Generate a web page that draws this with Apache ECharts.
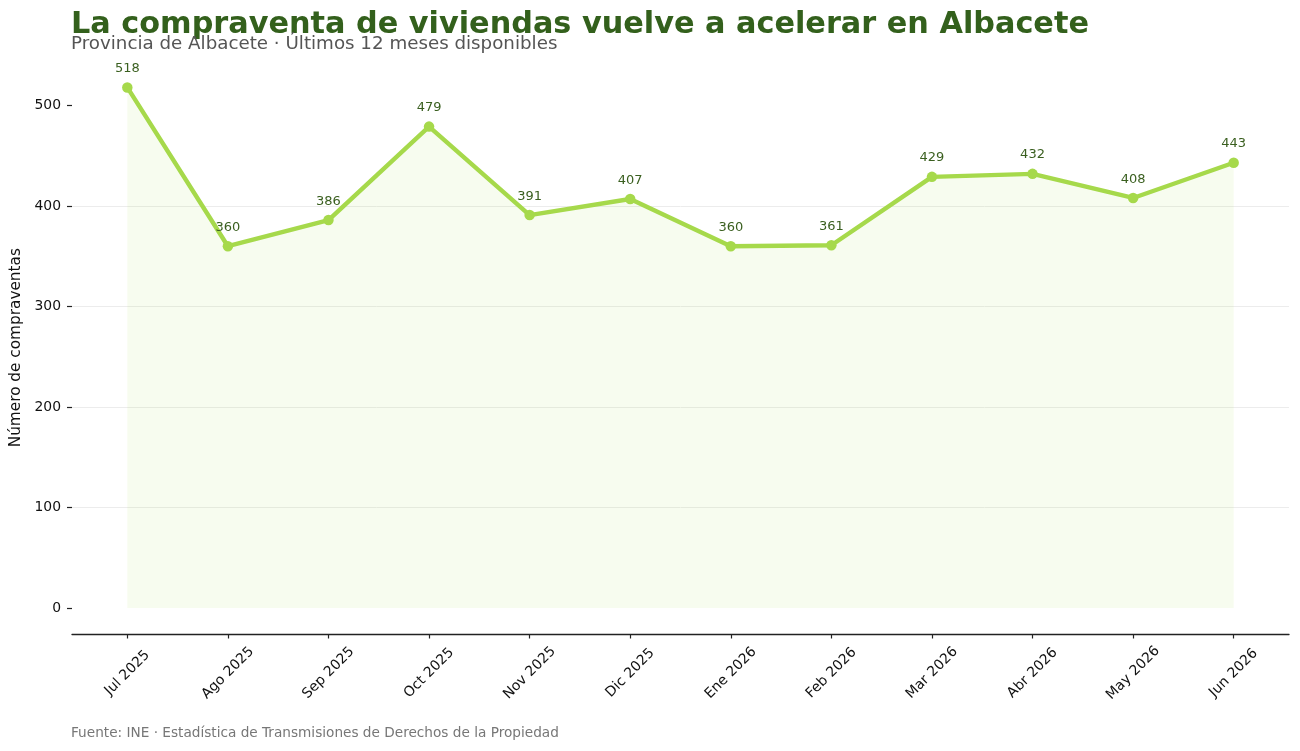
<!DOCTYPE html>
<html>
<head>
<meta charset="UTF-8">
<title>Compraventa de viviendas Albacete</title>
<script src="https://cdn.jsdelivr.net/npm/echarts@6/dist/echarts.min.js"></script>
<style>
html, body { margin: 0; padding: 0; background: #fff; }
#main { width: 1300px; height: 751px; }
</style>
</head>
<body>
<div id="main"></div>
<script>
// datos
var meses = ['Jul 2025', 'Ago 2025', 'Sep 2025', 'Oct 2025', 'Nov 2025', 'Dic 2025',
             'Ene 2026', 'Feb 2026', 'Mar 2026', 'Abr 2026', 'May 2026', 'Jun 2026'];
var compraventas = [518, 360, 386, 479, 391, 407, 360, 361, 429, 432, 408, 443];
var ticksY = [0, 100, 200, 300, 400, 500];

var FONT = 'DejaVu Sans';
var chart = echarts.init(document.getElementById('main'));

// margenes del 5% (como matplotlib)
var yMax = Math.max.apply(null, compraventas);
var padY = yMax * 0.05;
var padX = (meses.length - 1) * 0.05;
var posX = meses.map(function (m, i) { return i; });
var puntos = compraventas.map(function (v, i) { return [i, v]; });

var option = {
    animation: false,
    textStyle: { fontFamily: FONT },
    title: [
        {
            text: 'La compraventa de viviendas vuelve a acelerar en Albacete',
            left: 71, top: 10, padding: 0,
            textStyle: { fontFamily: FONT, fontSize: 30.3, fontWeight: 'bold', color: '#33601c' }
        },
        {
            text: 'Provincia de Albacete · Últimos 12 meses disponibles',
            left: 71, top: 35, padding: 0,
            textStyle: { fontFamily: FONT, fontSize: 18.25, fontWeight: 'normal', color: '#555555' }
        },
        {
            text: 'Fuente: INE · Estadística de Transmisiones de Derechos de la Propiedad',
            left: 71, top: 726, padding: 0,
            textStyle: { fontFamily: FONT, fontSize: 13.65, fontWeight: 'normal', color: '#777777' }
        }
    ],
    grid: { left: 72, right: 11, top: 61.4, bottom: 117, containLabel: false },
    xAxis: {
        type: 'value',
        min: -padX,
        max: meses.length - 1 + padX,
        axisLine: { onZero: false, lineStyle: { color: '#222222', width: 1.3 } },
        axisTick: { customValues: posX, length: 4.5, lineStyle: { color: '#222222', width: 1.2 } },
        axisLabel: {
            customValues: posX, rotate: 45, align: 'center', verticalAlign: 'middle',
            fontSize: 14, color: '#111111', margin: 39,
            formatter: function (v) { return meses[Math.round(v)]; }
        },
        splitLine: { show: false }
    },
    yAxis: {
        type: 'value',
        min: -padY,
        max: yMax + padY,
        name: 'Número de compraventas',
        nameLocation: 'middle',
        nameGap: 43,
        nameTextStyle: { fontSize: 15.3, color: '#111111' },
        axisLine: { show: false, onZero: false },
        axisTick: { show: true, customValues: ticksY, length: 5, lineStyle: { color: '#222222', width: 1.2 } },
        axisLabel: { customValues: ticksY, fontSize: 13.9, color: '#111111', margin: 11 },
        splitLine: { showMinLine: false, showMaxLine: false, lineStyle: { color: '#ececec', width: 1 } }
    },
    series: [{
        type: 'line',
        data: puntos,
        symbol: 'circle',
        symbolSize: 10.5,
        lineStyle: { color: '#a6d94b', width: 4.4 },
        itemStyle: { color: '#a6d94b' },
        areaStyle: { color: 'rgba(166,217,75,0.13)', origin: 0 },
        label: {
            show: true, position: 'top', distance: 7,
            fontSize: 13, color: '#3a5f1f', fontFamily: FONT,
            formatter: function (p) { return p.value[1]; }
        }
    }]
};
chart.setOption(option);
</script>
</body>
</html>
